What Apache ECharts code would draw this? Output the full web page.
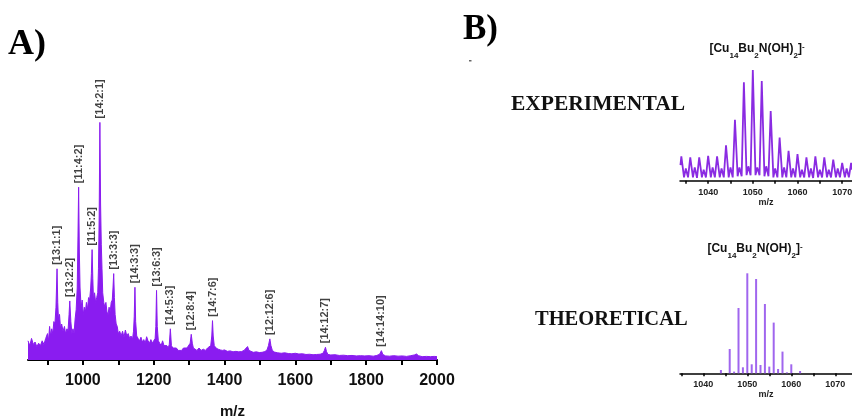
<!DOCTYPE html>
<html>
<head>
<meta charset="utf-8">
<script src="https://cdn.jsdelivr.net/npm/echarts@6/dist/echarts.min.js"></script>
<style>
  html, body { margin: 0; padding: 0; background: #fff; }
  #chart { width: 852px; height: 418px; }
</style>
</head>
<body>
<div id="chart"></div>
<script>
// ---- Panel A: full mass spectrum (m/z vs relative intensity, %) ----
const specMz = [
  845, 850, 855, 860, 865, 870, 875, 880, 885, 890, 895, 900, 903, 906, 909, 912, 915, 918, 921, 924,
  927, 929, 931, 934, 937, 940, 944, 948, 951, 955, 958, 961, 963, 966, 969, 972, 975, 978, 981, 984,
  986, 988, 990, 992, 995, 998, 1001, 1004, 1007, 1010, 1013, 1016, 1019, 1022, 1024, 1026, 1028, 1030, 1033, 1036,
  1039, 1042, 1044, 1046, 1048, 1050, 1052, 1054, 1056, 1059, 1062, 1065, 1068, 1071, 1074, 1077, 1080, 1083, 1085, 1087,
  1089, 1091, 1094, 1097, 1100, 1104, 1108, 1112, 1116, 1120, 1124, 1128, 1132, 1136, 1140, 1143, 1145, 1147, 1149, 1152,
  1156, 1160, 1164, 1168, 1172, 1176, 1180, 1184, 1188, 1192, 1196, 1200, 1204, 1206, 1208, 1210, 1213, 1217, 1221, 1225,
  1229, 1233, 1237, 1241, 1244, 1247, 1250, 1254, 1259, 1264, 1269, 1274, 1279, 1284, 1289, 1294, 1299, 1303, 1306, 1309,
  1312, 1317, 1322, 1328, 1334, 1340, 1346, 1352, 1357, 1361, 1364, 1366, 1368, 1371, 1376, 1382, 1388, 1394, 1400, 1408,
  1416, 1424, 1432, 1440, 1448, 1455, 1460, 1465, 1469, 1474, 1481, 1490, 1498, 1506, 1514, 1520, 1524, 1528, 1531, 1535,
  1541, 1550, 1560, 1570, 1580, 1590, 1600, 1610, 1620, 1630, 1640, 1650, 1660, 1670, 1678, 1682, 1685, 1688, 1692, 1700,
  1712, 1724, 1736, 1748, 1760, 1772, 1784, 1796, 1808, 1820, 1830, 1838, 1843, 1847, 1855, 1866, 1878, 1890, 1902, 1914,
  1926, 1936, 1942, 1948, 1958, 1970, 1982, 1992, 2000
];
const specInt = [
  8, 6, 9, 6.5, 7.5, 5.5, 7, 6, 8, 6.5, 9, 11, 8, 14, 10, 13, 11, 16, 15, 22,
  38, 24, 17, 19, 13, 15, 12, 14, 11, 13, 12, 19, 24.6, 16, 11, 13, 11, 17, 21, 30,
  50, 72, 45, 30, 22, 25, 19, 22, 20, 24, 21, 26, 25, 30, 36, 46, 34, 25, 28, 24,
  26, 28, 38, 60, 99, 65, 48, 38, 28, 24, 22, 24, 20, 19, 22, 20, 24, 25, 30, 36,
  26, 19, 15, 14, 11, 12, 10, 12, 9.5, 12.5, 10, 11, 9, 10, 8.5, 12, 18, 30.3, 16, 10,
  9, 8, 9.5, 7.5, 8.5, 7, 9.7, 8, 7, 8.5, 7, 6.5, 9, 14, 29, 14, 8, 7, 6, 8,
  6, 5.5, 6, 5, 6.5, 13, 6, 5, 4.5, 5, 4, 4.5, 4, 5, 4.5, 5, 4.5, 7, 10.7, 7,
  5, 4.5, 4, 5, 4, 4.5, 4, 5, 4.5, 6, 10, 16.4, 10, 6, 5, 4.5, 4.2, 4, 4.2, 3.6,
  3.8, 3.4, 3.6, 3.4, 3.5, 4, 4.5, 5.6, 4, 3.4, 3.2, 3.4, 3.1, 3.2, 3.5, 4.2, 6, 8.8, 6, 4,
  3.3, 3, 2.8, 3, 2.7, 2.6, 2.8, 2.5, 2.6, 2.3, 2.4, 2.2, 2.3, 2.4, 2.8, 4, 5.3, 3.5, 2.3, 2.1,
  2.2, 1.9, 2, 1.8, 1.9, 1.7, 1.8, 1.7, 1.8, 1.6, 1.9, 2.4, 3.9, 2.3, 1.7, 1.6, 1.8, 1.6, 1.7, 1.5,
  1.8, 2.1, 2.5, 1.8, 1.4, 1.5, 1.4, 1.5, 1.4
];
// Assigned cluster peaks [Cu:Bu:OH]
const peakNames = ['[13:1:1]', '[13:2:2]', '[11:4:2]', '[11:5:2]', '[14:2:1]', '[13:3:3]', '[14:3:3]',
  '[13:6:3]', '[14:5:3]', '[12:8:4]', '[14:7:6]', '[12:12:6]', '[14:12:7]', '[14:14:10]'];
const peakMz = [927, 963, 988, 1026, 1048, 1087, 1147, 1208, 1247, 1306, 1366, 1528, 1685, 1843];
const ticksA = [900, 1000, 1100, 1200, 1300, 1400, 1500, 1600, 1700, 1800, 1900, 2000];
const labelsA = [1000, 1200, 1400, 1600, 1800, 2000];

// ---- Panel B: isotope pattern of [Cu14Bu2N(OH)2]- ----
const expMz = [
  1033.8, 1034, 1034.6, 1035, 1035.5, 1036, 1036.6, 1037, 1037.5, 1038, 1038.6, 1039, 1039.5,
  1040, 1040.6, 1041, 1041.5, 1042, 1042.6, 1043, 1043.5, 1044, 1044.6, 1045, 1045.5,
  1046, 1046.6, 1047, 1047.5, 1048, 1048.6, 1049, 1049.5, 1050, 1050.6, 1051, 1051.5,
  1052, 1052.6, 1053, 1053.5, 1054, 1054.6, 1055, 1055.5, 1056, 1056.6, 1057, 1057.5,
  1058, 1058.6, 1059, 1059.5, 1060, 1060.6, 1061, 1061.5, 1062, 1062.6, 1063, 1063.5,
  1064, 1064.6, 1065, 1065.5, 1066, 1066.6, 1067, 1067.5, 1068, 1068.6, 1069, 1069.5,
  1070, 1070.6, 1071, 1071.5, 1072, 1072.2
];
const expInt = [
  14, 22, 3, 11, 3, 21, 3, 12, 2.5, 21, 3, 10, 3,
  22.5, 3, 12, 3, 22, 3, 11, 3, 32, 3, 12, 3,
  55, 4, 12, 4, 89, 5, 13, 5, 100, 5, 12, 5,
  90, 4, 13, 4, 63, 3, 11, 3, 39, 3, 12, 3,
  27, 3, 11, 3, 24, 3, 10, 3, 21, 3, 11, 2.5,
  22, 3, 10, 3, 21, 3, 10, 3, 19, 3, 11, 3,
  16, 3, 11, 3, 16, 10
];
const theoMz = [1044, 1046, 1047, 1048, 1049, 1050, 1051, 1052, 1053, 1054, 1055, 1056, 1057, 1058, 1059, 1060, 1062];
const theoInt = [3.3, 24.3, 1.7, 65.3, 6, 100, 9, 94.3, 8.3, 69.3, 6.7, 50.7, 4.3, 21.7, 1, 9, 2.3];
const ticksB = [1035, 1040, 1045, 1050, 1055, 1060, 1065, 1070];
const labelsB = [1040, 1050, 1060, 1070];

const sans = '"Liberation Sans", Arial, sans-serif';
const serif = '"Liberation Serif", "Times New Roman", serif';
const violet = '#8a1cf0';
const plain = v => String(v);

const pairs = (xs, ys) => xs.map((x, i) => [x, ys[i]]);
const peakData = peakMz.map((m, i) => ({ name: peakNames[i], value: [m, specInt[specMz.indexOf(m)]] }));

function bAxis(gridIndex, min, max, nameGap) {
  return {
    gridIndex, type: 'value', min, max,
    axisLine: { lineStyle: { color: '#000', width: 1.5 } },
    axisTick: { customValues: ticksB, length: 3, lineStyle: { color: '#000', width: 1.5 } },
    axisLabel: { customValues: labelsB, formatter: plain, fontSize: 9, fontWeight: 'bold', color: '#222', fontFamily: sans, margin: 7 },
    splitLine: { show: false },
    name: 'm/z', nameLocation: 'middle', nameGap,
    nameTextStyle: { fontSize: 9, fontWeight: 'bold', color: '#222', fontFamily: sans }
  };
}

const formulaRich = {
  b: { fontSize: 12, fontWeight: 'bold', fontFamily: sans, fill: '#111', lineHeight: 17, verticalAlign: 'top' },
  s: { fontSize: 8, fontWeight: 'bold', fontFamily: sans, fill: '#111', lineHeight: 8, verticalAlign: 'bottom' },
  p: { fontSize: 8, fontWeight: 'bold', fontFamily: sans, fill: '#111', lineHeight: 8, verticalAlign: 'top' }
};
const formula = '{b|[Cu}{s|14}{b|Bu}{s|2}{b|N(OH)}{s|2}{b|]}{p|-}';

const chart = echarts.init(document.getElementById('chart'), null, { renderer: 'canvas' });
chart.setOption({
  animation: false,
  backgroundColor: '#fff',
  grid: [
    { left: 28, right: 415, top: 120, bottom: 58, outerBoundsMode: 'none' },
    { left: 680, right: 0, top: 70, bottom: 237.3, outerBoundsMode: 'none' },
    { left: 680, right: 0, top: 273.3, bottom: 44.7, outerBoundsMode: 'none' }
  ],
  xAxis: [
    {
      gridIndex: 0, type: 'value', min: 845, max: 2000,
      axisLine: { lineStyle: { color: '#000', width: 2 } },
      axisTick: { customValues: ticksA, length: 5, lineStyle: { color: '#000', width: 2 } },
      axisLabel: { customValues: labelsA, formatter: plain, fontSize: 16, fontWeight: 'bold', color: '#111', fontFamily: sans, margin: 13 },
      splitLine: { show: false },
      name: 'm/z', nameLocation: 'middle', nameGap: 44,
      nameTextStyle: { fontSize: 15, fontWeight: 'bold', color: '#111', fontFamily: sans }
    },
    bAxis(1, 1033.7, 1072.2, 14),
    bAxis(2, 1034.7, 1073.8, 15)
  ],
  yAxis: [
    { gridIndex: 0, type: 'value', min: 0, max: 100, show: false },
    { gridIndex: 1, type: 'value', min: 0, max: 100, show: false },
    { gridIndex: 2, type: 'value', min: 0, max: 100, show: false }
  ],
  series: [
    {
      type: 'line', xAxisIndex: 0, yAxisIndex: 0, data: pairs(specMz, specInt),
      showSymbol: false, symbol: 'none',
      lineStyle: { color: violet, width: 1 },
      areaStyle: { color: violet, opacity: 1 }
    },
    {
      type: 'scatter', xAxisIndex: 0, yAxisIndex: 0, data: peakData,
      symbolSize: 0, silent: true,
      label: {
        show: true, position: 'top', rotate: 90, align: 'left', verticalAlign: 'middle', distance: 4,
        formatter: '{b}', fontSize: 11, fontWeight: 'bold', color: '#111', fontFamily: sans
      }
    },
    {
      type: 'line', xAxisIndex: 1, yAxisIndex: 1, data: pairs(expMz, expInt),
      showSymbol: false, symbol: 'none',
      lineStyle: { color: '#8a2be2', width: 1.8 }
    },
    {
      type: 'bar', xAxisIndex: 2, yAxisIndex: 2, data: pairs(theoMz, theoInt),
      barWidth: 2, itemStyle: { color: '#a066ee' }
    }
  ],
  graphic: [
    { type: 'text', style: { text: 'A)', x: 8, y: 45, font: 'bold 36px ' + serif, fill: '#000', verticalAlign: 'middle' } },
    { type: 'text', style: { text: 'B)', x: 463, y: 30, font: 'bold 35px ' + serif, fill: '#000', verticalAlign: 'middle' } },
    { type: 'rect', shape: { x: 469, y: 60, width: 2.5, height: 1.5 }, style: { fill: '#666' } },
    { type: 'text', style: { text: 'EXPERIMENTAL', x: 511, y: 104, font: 'bold 21.5px ' + serif, fill: '#111', verticalAlign: 'middle' } },
    { type: 'text', style: { text: 'THEORETICAL', x: 535, y: 320, font: 'bold 20.5px ' + serif, fill: '#111', verticalAlign: 'middle' } },
    { type: 'text', style: { text: formula, rich: formulaRich, x: 757, y: 51, align: 'center', verticalAlign: 'middle' } },
    { type: 'text', style: { text: formula, rich: formulaRich, x: 755, y: 251, align: 'center', verticalAlign: 'middle' } }
  ]
});
</script>
</body>
</html>
